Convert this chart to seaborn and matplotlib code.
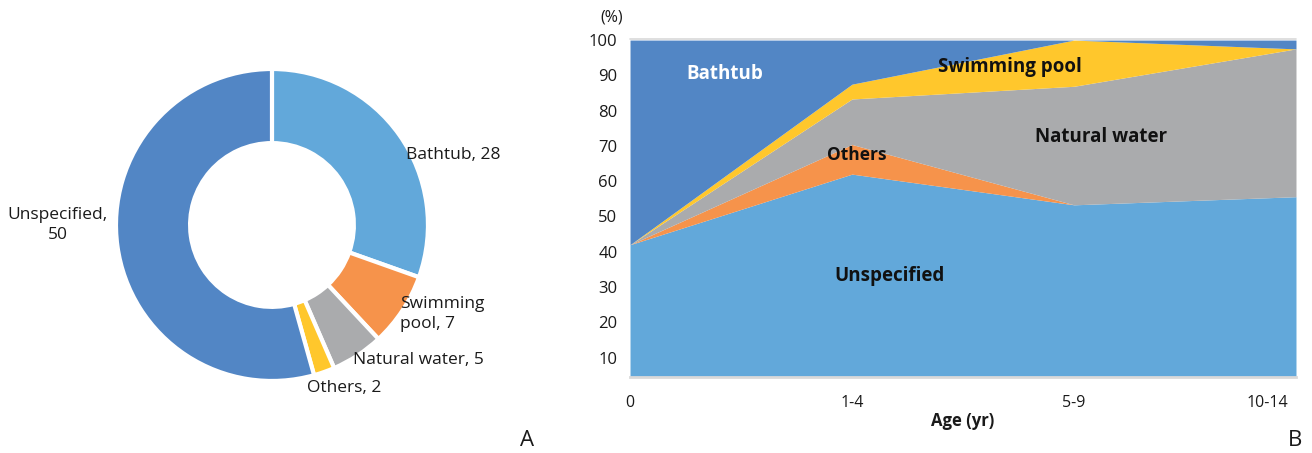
import matplotlib
matplotlib.use("Agg")
import matplotlib.pyplot as plt
import matplotlib.transforms as mtrans
import seaborn as sns

# donut (A)
pie_labels = ["Bathtub", "Swimming pool", "Natural water", "Others", "Unspecified"]
pie_values = [28, 7, 5, 2, 50]

# stacked area (B), percent by age group
ages = ["0", "1-4", "5-9", "10-14"]
area_names = ["Unspecified", "Others", "Natural water", "Swimming pool", "Bathtub"]
unspecified = [42.0, 62.0, 53.3, 55.6]
others = [0.0, 8.4, 0.0, 0.0]
natural_water = [0.0, 12.9, 33.6, 41.9]
swimming_pool = [0.0, 4.2, 13.1, 0.0]
bathtub = [58.0, 12.5, 0.0, 2.5]
y_ticks = [10, 20, 30, 40, 50, 60, 70, 80, 90, 100]

light_blue = "#62A8DA"
dark_blue = "#5286C5"
orange = "#F6934B"
grey = "#AAABAD"
yellow = "#FFC72C"

sns.set_theme(style="white")
plt.rcParams["font.family"] = ["Open Sans", "DejaVu Sans"]

fig = plt.figure(figsize=(13.12, 4.53), dpi=100)

# ---- A: donut ----
ax1 = fig.add_axes([0.0884, 0.159, 0.2378, 0.6887])
pie_colors = [light_blue, orange, grey, yellow, dark_blue]
ax1.pie(pie_values, colors=pie_colors, startangle=90, counterclock=False, radius=1,
        wedgeprops=dict(width=0.475, edgecolor="white", linewidth=3))
ax1.set_xlim(-1, 1)
ax1.set_ylim(-1, 1)
ax1.set_aspect("equal")

fs = 12.5
ax1.text(0.859, 0.449, "Bathtub, 28", fontsize=fs, ha="left", va="center", color="#1a1a1a")
ax1.text(0.821, -0.571, "Swimming\npool, 7", fontsize=fs, ha="left", va="center",
         linespacing=1.35, color="#1a1a1a")
ax1.text(0.519, -0.865, "Natural water, 5", fontsize=fs, ha="left", va="center", color="#1a1a1a")
ax1.text(0.224, -1.045, "Others, 2", fontsize=fs, ha="left", va="center", color="#1a1a1a")
ax1.text(-1.372, 0.0, "Unspecified,\n50", fontsize=fs, ha="center", va="center",
         multialignment="center", linespacing=1.4, color="#1a1a1a")

fig.text(527 / 1312, 1 - 440 / 453, "A", fontsize=16, ha="center", va="center", color="#1a1a1a")

# ---- B: stacked area ----
ax2 = fig.add_axes([0.4802, 0.1678, 0.5076, 0.7461])
x = list(range(len(ages)))
area_colors = [light_blue, orange, grey, yellow, dark_blue]
ax2.stackplot(x, unspecified, others, natural_water, swimming_pool, bathtub,
              colors=area_colors, labels=area_names, linewidth=0)
ax2.set_xlim(0, 3)
ax2.set_ylim(4.5, 100.3)
ax2.axhline(100.3, color="#D9D9D9", lw=1.2, clip_on=False)

ax2.set_yticks(y_ticks)
ax2.set_yticklabels([str(v) for v in y_ticks], fontsize=12, color="#1a1a1a")
ax2.set_xticks(x)
ax2.set_xticklabels(ages, fontsize=11.5, color="#1a1a1a")
ax2.tick_params(axis="both", length=0)
ax2.tick_params(axis="x", pad=13)
ax2.tick_params(axis="y", pad=9)
last = ax2.get_xticklabels()[-1]
last.set_ha("right")
last.set_transform(last.get_transform() + mtrans.ScaledTranslation(-0.08, 0, fig.dpi_scale_trans))

sns.despine(ax=ax2, left=True, right=True, top=True)
ax2.spines["bottom"].set_color("#D9D9D9")
ax2.spines["bottom"].set_linewidth(2)

ax2.set_xlabel("Age (yr)", fontsize=12, fontweight="bold", color="#1a1a1a", labelpad=1)
fig.text(612 / 1312, 1 - 17 / 453, "(%)", fontsize=11.5, ha="center", va="center", color="#1a1a1a")

ax2.text(0.425, 90.5, "Bathtub", fontsize=13.5, fontweight="bold", color="white", ha="center", va="center")
ax2.text(1.02, 67.3, "Others", fontsize=12.5, fontweight="bold", color="#111111", ha="center", va="center")
ax2.text(1.71, 92.5, "Swimming pool", fontsize=13.5, fontweight="bold", color="#111111", ha="center", va="center")
ax2.text(2.12, 72.5, "Natural water", fontsize=13.5, fontweight="bold", color="#111111", ha="center", va="center")
ax2.text(1.17, 33.0, "Unspecified", fontsize=13.5, fontweight="bold", color="#111111", ha="center", va="center")

fig.text(1295 / 1312, 1 - 440 / 453, "B", fontsize=16, ha="center", va="center", color="#1a1a1a")

fig.savefig("out.png", dpi=100, facecolor="white")
